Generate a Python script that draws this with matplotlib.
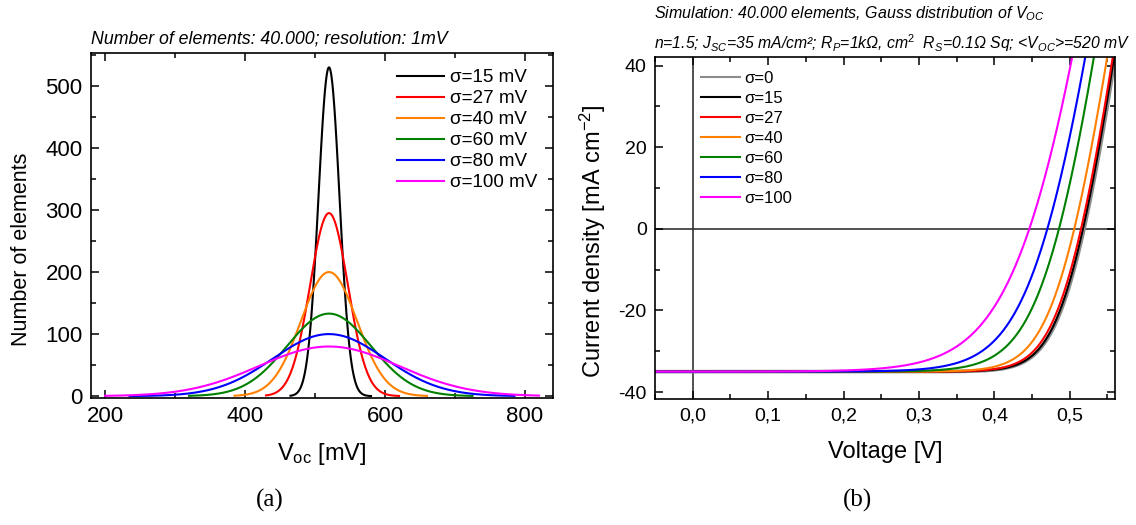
import numpy as np
import matplotlib
matplotlib.use("Agg")
import matplotlib.pyplot as plt
from matplotlib.ticker import MultipleLocator, FixedLocator, FixedFormatter

plt.rcParams['font.family'] = ['Liberation Sans', 'DejaVu Sans']
plt.rcParams['mathtext.fontset'] = 'custom'
plt.rcParams['mathtext.rm'] = 'Liberation Sans'
plt.rcParams['mathtext.it'] = 'Liberation Sans:italic'
plt.rcParams['mathtext.bf'] = 'Liberation Sans:bold'
plt.rcParams['axes.unicode_minus'] = False

# ---- (a) Gaussian distributions of Voc ----
dist_sigma = [15, 27, 40, 60, 80, 100]                 # mV
dist_peak = [530, 295, 200, 133, 100, 80]              # elements per 1 mV bin
dist_center = 520                                      # mV
dist_start = [465, 430, 385, 320, 235, 200]            # mV, visible range
dist_end = [580, 620, 660, 725, 785, 820]
dist_labels = ["σ=15 mV", "σ=27 mV", "σ=40 mV", "σ=60 mV", "σ=80 mV", "σ=100 mV"]
dist_colors = ["black", "red", "#ff8000", "green", "blue", "magenta"]

# ---- (b) J-V curves, parameters fitted to the picture ----
iv_labels = ["σ=0", "σ=15", "σ=27", "σ=40", "σ=60", "σ=80", "σ=100"]
iv_colors = ["#8c8c8c", "black", "red", "#ff8000", "green", "blue", "magenta"]
iv_voc = [0.519, 0.5175, 0.515, 0.506, 0.4857, 0.4703, 0.4464]   # V at J=0
iv_slope = [0.023, 0.023, 0.024, 0.026, 0.032, 0.037, 0.048]     # V, knee width
iv_rs = [0.00055, 0.00055, 0.00055, 0.00055, 0.0005, 0.0005, 0.00045]  # V per mA/cm2
jsc = 35.0

volt_ticks = [0.0, 0.1, 0.2, 0.3, 0.4, 0.5]
volt_labels = ["0,0", "0,1", "0,2", "0,3", "0,4", "0,5"]

fig = plt.figure(figsize=(11.36, 5.25), dpi=100)
ax1 = fig.add_axes([91 / 1136, 127 / 525, 462 / 1136, 345 / 525])
ax2 = fig.add_axes([655 / 1136, 126 / 525, 460 / 1136, 342 / 525])

for sig, pk, x0, x1, lab, col in zip(dist_sigma, dist_peak, dist_start,
                                     dist_end, dist_labels, dist_colors):
    mv = np.arange(x0, x1 + 1)
    n = pk * np.exp(-0.5 * ((mv - dist_center) / sig) ** 2)
    ax1.plot(mv, n, color=col, lw=1.5, label=lab)

ax1.set_xlim(180, 840)
ax1.set_ylim(-3, 553)
ax1.xaxis.set_major_locator(MultipleLocator(200))
ax1.xaxis.set_minor_locator(MultipleLocator(100))
ax1.yaxis.set_major_locator(MultipleLocator(100))
ax1.yaxis.set_minor_locator(MultipleLocator(50))
ax1.set_xlabel(r"V$_{\mathrm{oc}}$ [mV]", fontsize=17, labelpad=10)
ax1.set_ylabel("Number of elements", fontsize=15.5)
ax1.yaxis.set_label_coords(-0.128, 0.43)
ax1.set_title("Number of elements: 40.000; resolution: 1mV", loc="left",
              fontsize=12.8, fontstyle="italic", pad=7)
ax1.legend(loc="upper right", frameon=False, fontsize=13.6, handlelength=2.5,
           labelspacing=0.2, handletextpad=0.3, borderaxespad=0.45)

for i, (voc, m, rs, lab, col) in enumerate(zip(iv_voc, iv_slope, iv_rs,
                                               iv_labels, iv_colors)):
    t = np.linspace(-45, np.log(85 / jsc), 3000)
    j = -jsc + jsc * np.exp(t)
    v = voc + m * t + rs * j
    ax2.plot(v, j, color=col, lw=2.6 if i == 0 else 1.5, label=lab, zorder=2)

ax2.axhline(0, color="#333333", lw=1.2, zorder=1)
ax2.axvline(0, color="#333333", lw=1.2, zorder=1)
ax2.set_xlim(-0.05, 0.56)
ax2.set_ylim(-41.7, 42.1)
ax2.xaxis.set_major_locator(FixedLocator(volt_ticks))
ax2.xaxis.set_major_formatter(FixedFormatter(volt_labels))
ax2.xaxis.set_minor_locator(MultipleLocator(0.05))
ax2.yaxis.set_major_locator(MultipleLocator(20))
ax2.yaxis.set_minor_locator(MultipleLocator(10))
ax2.set_xlabel("Voltage [V]", fontsize=17, labelpad=12)
ax2.set_ylabel(r"Current density [mA cm$^{\mathrm{-2}}$]", fontsize=17)
ax2.yaxis.set_label_coords(-0.102, 0.46)
leg = ax2.legend(loc="upper left", bbox_to_anchor=(0.07, 1.0), frameon=False,
                 fontsize=12, handlelength=2.3, labelspacing=0.3,
                 handletextpad=0.3, borderaxespad=0.45)
leg.get_lines()[0].set_linewidth(1.5)

fig.text(654 / 1136, 1 - 14 / 525,
         r"Simulation: 40.000 elements, Gauss distribution of V$_{OC}$",
         fontsize=11.5, fontstyle="italic", ha="left", va="center")
fig.text(654 / 1136, 1 - 43 / 525,
         r"n=1.5; J$_{SC}$=35 mA/cm²; R$_{P}$=1kΩ, cm$^{2}$  R$_{S}$=0.1Ω Sq; <V$_{OC}$>=520 mV",
         fontsize=11.3, fontstyle="italic", ha="left", va="center")

for ax, fs in ((ax1, 16), (ax2, 14)):
    ax.tick_params(which="both", direction="in", top=True, right=True,
                   labelsize=fs, width=1.1)
    ax.tick_params(which="major", length=6, pad=6)
    ax.tick_params(which="minor", length=3.5)
    for s in ax.spines.values():
        s.set_linewidth(1.2)

fig.text(270 / 1136, 1 - 500 / 525, "(a)", fontsize=18,
         family="Liberation Serif", ha="center", va="center")
fig.text(858 / 1136, 1 - 500 / 525, "(b)", fontsize=18,
         family="Liberation Serif", ha="center", va="center")

fig.savefig("out.png", dpi=100)
